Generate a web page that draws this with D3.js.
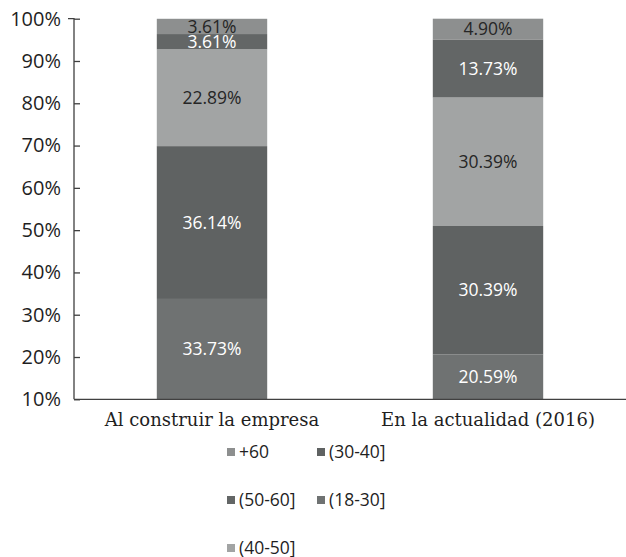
<!DOCTYPE html>
<html>
<head>
<meta charset="utf-8">
<script src="https://cdn.jsdelivr.net/npm/d3@7"></script>
<style>
body { margin: 0; background: #fff; }
.axis path, .axis line { stroke: #404040; stroke-width: 1.3; }
.y-axis text { font-family: "Open Sans", sans-serif; font-size: 20px; fill: #1f1f1f; }
.x-axis text { font-family: "DejaVu Serif", serif; font-size: 18px; fill: #1f1f1f; }
.lbl { font-family: "Open Sans", sans-serif; font-size: 17.5px; }
.legend text { font-family: "Open Sans", sans-serif; font-size: 17.5px; fill: #1f1f1f; }
</style>
</head>
<body>
<div class="chart"></div>
<script>
// data
let categories = ["Al construir la empresa", "En la actualidad (2016)"]
let groups = ["(18-30]", "(30-40]", "(40-50]", "(50-60]", "+60"]
let values = {
    "(18-30]": [33.73, 20.59],
    "(30-40]": [36.14, 30.39],
    "(40-50]": [22.89, 30.39],
    "(50-60]": [3.61, 13.73],
    "+60": [3.61, 4.90]
}
let yTicks = [0.1, 0.2, 0.3, 0.4, 0.5, 0.6, 0.7, 0.8, 0.9, 1.0]
let legendOrder = ["+60", "(30-40]", "(50-60]", "(18-30]", "(40-50]"]

let colors = {
    "(18-30]": "#6f7272",
    "(30-40]": "#5f6262",
    "(40-50]": "#a2a4a4",
    "(50-60]": "#636666",
    "+60": "#8d8f8f"
}
let textColors = {
    "(18-30]": "#ffffff",
    "(30-40]": "#ffffff",
    "(40-50]": "#262626",
    "(50-60]": "#ffffff",
    "+60": "#262626"
}

let outerWidth = 626
let outerHeight = 557
let margin = {top: 18.7, left: 74, right: 0}
let w = outerWidth - margin.left - margin.right
let h = 399.3 - margin.top

const svg = d3.select(".chart")
    .append("svg")
    .attr("width", outerWidth)
    .attr("height", outerHeight)
    .append("g")
    .attr("transform", `translate(${margin.left}, ${margin.top})`)

const xScale = d3.scaleBand()
    .domain(categories)
    .range([0, w])
    .paddingInner(0.6)
    .paddingOuter(0.3)

const yScale = d3.scaleLinear()
    .domain([0.1, 1])
    .range([h, 0])

// build stacks
let rows = categories.map((c, i) => {
    let r = {cat: c}
    groups.forEach(g => r[g] = values[g][i] / 100)
    return r
})
const series = d3.stack().keys(groups)(rows)

const layer = svg.selectAll(".layer")
    .data(series)
    .enter()
    .append("g")
    .attr("class", "layer")
    .attr("fill", d => colors[d.key])

const clip = v => Math.max(0.1, Math.min(1, v))

layer.selectAll("rect")
    .data(d => d)
    .enter()
    .append("rect")
    .attr("x", d => xScale(d.data.cat))
    .attr("width", xScale.bandwidth())
    .attr("y", d => yScale(clip(d[1])))
    .attr("height", d => yScale(clip(d[0])) - yScale(clip(d[1])))

series.forEach(s => {
    svg.selectAll(null)
        .data(s)
        .enter()
        .append("text")
        .attr("class", "lbl")
        .attr("x", d => xScale(d.data.cat) + xScale.bandwidth() / 2)
        .attr("y", d => yScale((clip(d[0]) + clip(d[1])) / 2))
        .attr("dy", "0.35em")
        .attr("text-anchor", "middle")
        .attr("fill", textColors[s.key])
        .text(d => (d.data[s.key] * 100).toFixed(2) + "%")
})

const yAxis = d3.axisLeft(yScale)
    .tickValues(yTicks)
    .tickFormat(d3.format(".0%"))
    .tickSize(-6)
    .tickPadding(13)

svg.append("g")
    .attr("class", "axis y-axis")
    .call(yAxis)
    .call(g => g.select(".domain").attr("d", `M-6,0H0V${h}`))

const xAxis = d3.axisBottom(xScale)
    .tickSize(0)
    .tickPadding(14)

svg.append("g")
    .attr("class", "axis x-axis")
    .attr("transform", `translate(0, ${h})`)
    .call(xAxis)
    .call(g => g.select(".domain").attr("d", `M0,0H${w}`))

// legend
const legend = d3.select("svg").append("g").attr("class", "legend")
legendOrder.forEach((k, i) => {
    let col = i % 2
    let row = Math.floor(i / 2)
    let lx = 227 + col * 90
    let ly = 452 + row * 48
    legend.append("rect")
        .attr("x", lx)
        .attr("y", ly - 4)
        .attr("width", 8)
        .attr("height", 8)
        .attr("fill", colors[k])
    legend.append("text")
        .attr("x", lx + 12)
        .attr("y", ly)
        .attr("dy", "0.35em")
        .text(k)
})
</script>
</body>
</html>
